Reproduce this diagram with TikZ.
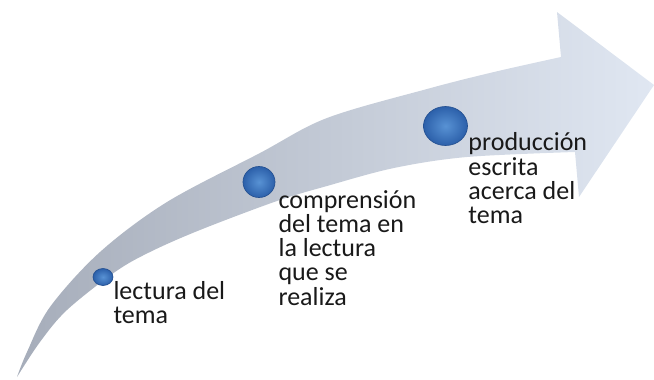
\documentclass[tikz,border=0pt]{standalone}
\usepackage{fontspec}
\setmainfont{Carlito}
\usepackage{xcolor}
\usepackage{tikz}
\usetikzlibrary{positioning,shapes.geometric}

\definecolor{arrowgray}{RGB}{166,173,186}
\definecolor{arrowlight}{RGB}{224,231,242}
\definecolor{bubbleblue}{RGB}{44,96,170}
\definecolor{bubblelight}{RGB}{88,146,212}
\definecolor{bubbledark}{RGB}{36,80,145}

\begin{document}
\begin{tikzpicture}[
  x=0.75pt, y=-0.75pt,
  bubble/.style={ellipse, inner sep=0pt, draw=bubbledark, line width=0.5pt,
    inner color=bubblelight, outer color=bubbleblue},
  steptext/.style={anchor=north west, inner sep=0pt, align=left,
    text=black!90, font=\fontsize{19.5pt}{18.2pt}\selectfont},
]
  \useasboundingbox (0,0) rectangle (654,379);

  % --- Arrow ---
  \shade[left color=arrowgray, right color=arrowlight]
    plot[smooth, tension=0.55] coordinates {(17,377) (27,352) (50,307) (100,252)
      (167,202) (260,153) (327,118) (427,89) (494,72) (561,57)}
    -- (557,12) -- (654,85) -- (579,197) -- (575,152)
    -- plot[smooth, tension=0.55] coordinates {(575,152) (467,157) (394,168)
      (327,186) (277,201) (200,230) (150,252) (115,272) (67,310) (40,342) (17,377)}
    -- cycle;

  % --- Steps ---
  \node[bubble, minimum width=15pt, minimum height=12.75pt] (b1) at (103,277) {};
  \node[bubble, minimum width=24pt, minimum height=23.25pt] (b2) at (259,182) {};
  \node[bubble, minimum width=33pt, minimum height=29.25pt] (b3) at (445.5,126) {};

  \node[steptext, below right=-1.7pt and 2.2pt of b1] (t1) {lectura del\\tema};
  \node[steptext, below right=-2.5pt and 5.8pt of b2] (t2)
    {comprensión\\del tema en\\la lectura\\que se\\realiza};
  \node[steptext, below right=-5.6pt and 5.2pt of b3] (t3)
    {producción\\escrita\\acerca del\\tema};
\end{tikzpicture}
\end{document}
